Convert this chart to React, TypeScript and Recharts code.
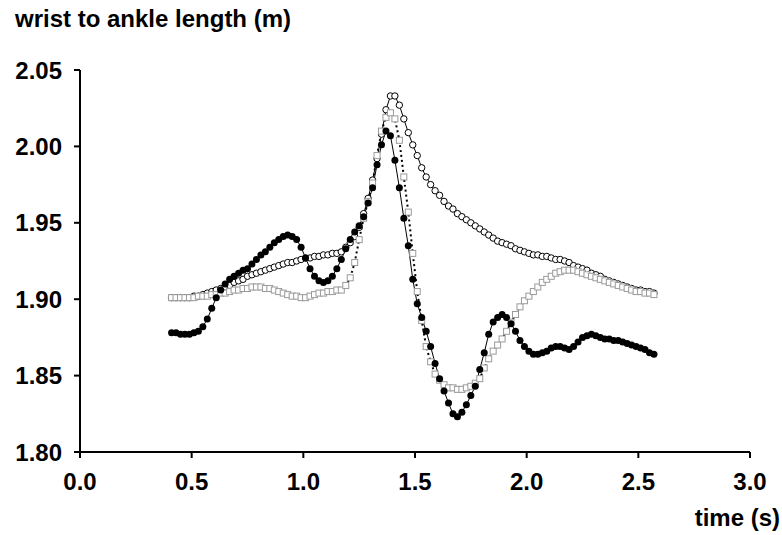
import * as React from "react"
import { LineChart, Line, XAxis, YAxis } from "recharts"

// sample times (s), one every 0.02 s
const times = [
  0.41, 0.43, 0.45, 0.47, 0.49, 0.51, 0.53, 0.55, 0.57, 0.59,
  0.61, 0.63, 0.65, 0.67, 0.69, 0.71, 0.73, 0.75, 0.77, 0.79,
  0.81, 0.83, 0.85, 0.87, 0.89, 0.91, 0.93, 0.95, 0.97, 0.99,
  1.01, 1.03, 1.05, 1.07, 1.09, 1.11, 1.13, 1.15, 1.17, 1.19,
  1.21, 1.23, 1.25, 1.27, 1.29, 1.31, 1.33, 1.35, 1.37, 1.39,
  1.41, 1.43, 1.45, 1.47, 1.49, 1.51, 1.53, 1.55, 1.57, 1.59,
  1.61, 1.63, 1.65, 1.67, 1.69, 1.71, 1.73, 1.75, 1.77, 1.79,
  1.81, 1.83, 1.85, 1.87, 1.89, 1.91, 1.93, 1.95, 1.97, 1.99,
  2.01, 2.03, 2.05, 2.07, 2.09, 2.11, 2.13, 2.15, 2.17, 2.19,
  2.21, 2.23, 2.25, 2.27, 2.29, 2.31, 2.33, 2.35, 2.37, 2.39,
  2.41, 2.43, 2.45, 2.47, 2.49, 2.51, 2.53, 2.55, 2.57,
]

// filled black circles
const filledSeries = [
  1.878, 1.878, 1.877, 1.877, 1.877, 1.878, 1.879, 1.882, 1.887, 1.894,
  1.901, 1.906, 1.910, 1.913, 1.915, 1.917, 1.919, 1.920, 1.923, 1.926,
  1.929, 1.931, 1.934, 1.937, 1.939, 1.941, 1.942, 1.941, 1.939, 1.934,
  1.927, 1.920, 1.915, 1.912, 1.911, 1.912, 1.915, 1.920, 1.926, 1.933,
  1.939, 1.944, 1.948, 1.954, 1.963, 1.973, 1.988, 2.001, 2.010, 2.007,
  1.991, 1.973, 1.953, 1.935, 1.913, 1.897, 1.888, 1.879, 1.869, 1.858,
  1.848, 1.840, 1.832, 1.825, 1.823, 1.826, 1.831, 1.837, 1.843, 1.854,
  1.865, 1.877, 1.885, 1.888, 1.890, 1.888, 1.884, 1.879, 1.873, 1.869,
  1.866, 1.864, 1.864, 1.865, 1.866, 1.868, 1.869, 1.869, 1.868, 1.867,
  1.869, 1.872, 1.875, 1.876, 1.877, 1.876, 1.875, 1.874, 1.874, 1.873,
  1.873, 1.872, 1.871, 1.870, 1.869, 1.868, 1.867, 1.865, 1.864,
]

// open circles
const openSeries = [
  1.901, 1.901, 1.901, 1.901, 1.901, 1.902, 1.902, 1.903, 1.904, 1.905,
  1.906, 1.907, 1.908, 1.909, 1.911, 1.912, 1.913, 1.915, 1.916, 1.917,
  1.918, 1.919, 1.920, 1.921, 1.922, 1.923, 1.924, 1.924, 1.925, 1.926,
  1.927, 1.927, 1.928, 1.928, 1.929, 1.929, 1.930, 1.930, 1.931, 1.934,
  1.937, 1.941, 1.947, 1.956, 1.966, 1.978, 1.992, 2.008, 2.024, 2.033,
  2.033, 2.027, 2.018, 2.009, 2.001, 1.994, 1.986, 1.980, 1.975, 1.971,
  1.968, 1.964, 1.961, 1.959, 1.956, 1.954, 1.952, 1.950, 1.948, 1.946,
  1.944, 1.942, 1.940, 1.938, 1.937, 1.936, 1.935, 1.933, 1.932, 1.931,
  1.930, 1.929, 1.929, 1.928, 1.928, 1.927, 1.926, 1.926, 1.925, 1.924,
  1.922, 1.921, 1.920, 1.919, 1.917, 1.916, 1.915, 1.913, 1.912, 1.911,
  1.910, 1.909, 1.908, 1.907, 1.906, 1.906, 1.905, 1.905, 1.904,
]

// grey open squares
const squareSeries = [
  1.901, 1.901, 1.901, 1.901, 1.901, 1.901, 1.902, 1.902, 1.902, 1.903,
  1.903, 1.904, 1.904, 1.905, 1.906, 1.906, 1.907, 1.907, 1.908, 1.908,
  1.908, 1.907, 1.907, 1.906, 1.905, 1.904, 1.903, 1.902, 1.902, 1.901,
  1.901, 1.902, 1.903, 1.904, 1.904, 1.905, 1.905, 1.906, 1.906, 1.909,
  1.914, 1.924, 1.939, 1.953, 1.964, 1.976, 1.994, 2.010, 2.019, 2.022,
  2.018, 2.004, 1.980, 1.957, 1.930, 1.905, 1.886, 1.869, 1.859, 1.851,
  1.847, 1.844, 1.842, 1.842, 1.841, 1.841, 1.842, 1.843, 1.845, 1.848,
  1.855, 1.861, 1.866, 1.870, 1.874, 1.879, 1.885, 1.890, 1.895, 1.899,
  1.902, 1.905, 1.908, 1.911, 1.913, 1.915, 1.917, 1.918, 1.919, 1.919,
  1.919, 1.918, 1.917, 1.916, 1.915, 1.914, 1.913, 1.912, 1.911, 1.910,
  1.909, 1.908, 1.907, 1.906, 1.905, 1.905, 1.904, 1.904, 1.903,
]

const xTicks = [0, 0.5, 1, 1.5, 2, 2.5, 3]
const yTicks = [1.8, 1.85, 1.9, 1.95, 2.0, 2.05]

const FONT = '"Liberation Sans", Arial, Helvetica, sans-serif'

const SquareDot = (props: any) => {
  const { cx, cy, index } = props
  if (cx == null || cy == null) return <g key={`sq-${index}`} />
  return (
    <rect
      key={`sq-${index}`}
      x={cx - 3}
      y={cy - 3}
      width={6}
      height={6}
      fill="#fff"
      stroke="#9a9a9a"
      strokeWidth={1}
    />
  )
}

export default function App() {
  const data = times.map((t, i) => ({
    t,
    filled: filledSeries[i],
    open: openSeries[i],
    square: squareSeries[i],
  }))

  const tickStyle = { fontSize: 24, fontWeight: 700, fill: "#000", fontFamily: FONT }

  return (
    <div style={{ position: "absolute", left: 0, top: 0, width: 782, height: 535, background: "#fff" }}>
      <LineChart
        width={782}
        height={535}
        data={data}
        margin={{ top: 70, right: 32, left: 0, bottom: 0 }}
      >
        <XAxis
          dataKey="t"
          type="number"
          domain={[0, 3]}
          ticks={xTicks}
          tickFormatter={(v: number) => v.toFixed(1)}
          height={83}
          axisLine={{ stroke: "#000", strokeWidth: 2 }}
          tickLine={{ stroke: "#000", strokeWidth: 2 }}
          tickSize={6}
          tickMargin={15}
          tick={tickStyle}
          interval={0}
        />
        <YAxis
          type="number"
          domain={[1.8, 2.05]}
          ticks={yTicks}
          tickFormatter={(v: number) => v.toFixed(2)}
          width={80}
          axisLine={{ stroke: "#000", strokeWidth: 2 }}
          tickLine={{ stroke: "#000", strokeWidth: 2 }}
          tickSize={6}
          tickMargin={12}
          tick={tickStyle}
          interval={0}
          allowDataOverflow
        />
        <Line
          dataKey="open"
          type="linear"
          stroke="#000"
          strokeWidth={1}
          dot={{ r: 3.2, fill: "#fff", stroke: "#000", strokeWidth: 1 }}
          isAnimationActive={false}
        />
        <Line
          dataKey="square"
          type="linear"
          stroke="#000"
          strokeWidth={2}
          strokeDasharray="2 3"
          dot={SquareDot}
          isAnimationActive={false}
        />
        <Line
          dataKey="filled"
          type="linear"
          stroke="#000"
          strokeWidth={1}
          dot={{ r: 3.5, fill: "#000", stroke: "#000", strokeWidth: 0 }}
          isAnimationActive={false}
        />
      </LineChart>
      <div
        style={{
          position: "absolute",
          left: 15,
          top: 7,
          fontFamily: FONT,
          fontWeight: 700,
          fontSize: 24,
          lineHeight: "24px",
          whiteSpace: "nowrap",
        }}
      >
        wrist to ankle length (m)
      </div>
      <div
        style={{
          position: "absolute",
          right: 2,
          top: 506,
          fontFamily: FONT,
          fontWeight: 700,
          fontSize: 24,
          lineHeight: "24px",
          whiteSpace: "nowrap",
        }}
      >
        time (s)
      </div>
    </div>
  )
}
